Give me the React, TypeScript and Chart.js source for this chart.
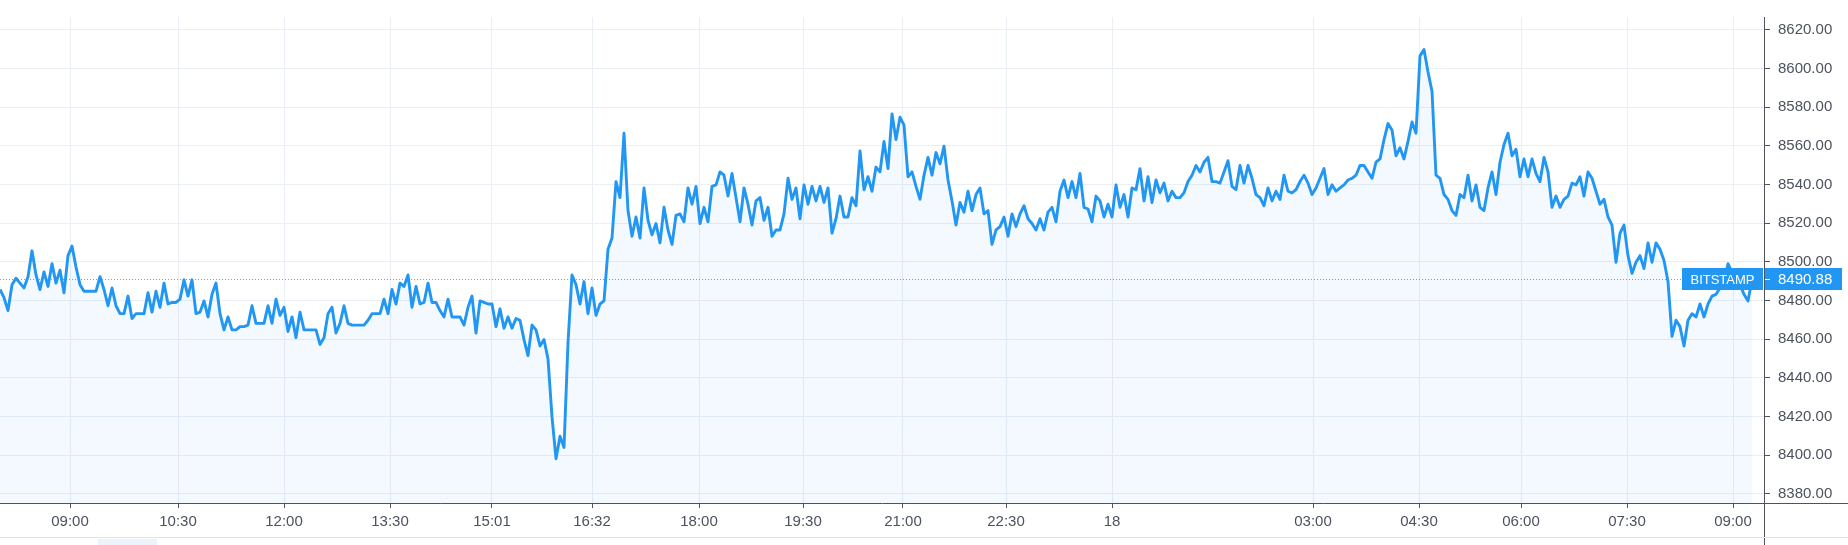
import React, { useEffect, useRef } from 'react';
import { Chart, registerables } from 'chart.js';

Chart.register(...registerables);

// Price samples (BTC/USD, Bitstamp), evenly spaced in time from ~08:00 to ~09:00 next day
const prices: number[] = [
  // 08:00 - 12:15
  8485.7, 8481.5, 8474.8, 8488.2, 8491.5, 8489, 8486.5, 8492.3, 8505.7, 8493.2,
  8485.7, 8494.8, 8487.3, 8499, 8489, 8495.7, 8484, 8503.2, 8508.2, 8497.3,
  8488.2, 8484.8, 8484.8, 8484.8, 8484.8, 8492.3, 8485.7, 8477.3, 8486.5, 8477.3,
  8473.2, 8473.2, 8482.3, 8470.7, 8473.2, 8473.2, 8473.2, 8484, 8474, 8484.8,
  8476.5, 8489, 8478.2, 8479, 8479, 8480.7, 8490.7, 8482.3, 8490.7, 8473.2,
  8474, 8479.8, 8471.5, 8483.2, 8489, 8473.2, 8464.8, 8471.5, 8464.8, 8464.8,
  8466.5, 8466.5, 8467.3, 8477.3, 8468.2, 8468.2, 8468.2, 8477.3, 8468.2, 8480.7,
  8472.3, 8476.5, 8464, 8471.5, 8460.8,
  // 12:15 - 16:30
  8474, 8464.8, 8464.8, 8464.8, 8464.8, 8457.3, 8460.7, 8473.2, 8476.5, 8463.2,
  8468.2, 8477.3, 8468.2, 8467.3, 8467.3, 8467.3, 8467.3, 8469.8, 8473.2, 8473.2,
  8473.2, 8480.7, 8473.2, 8485.7, 8478.2, 8489, 8487.3, 8493.2, 8476.5, 8487.3,
  8478.2, 8479, 8489, 8479, 8479, 8474.8, 8471.5, 8480.7, 8471.5, 8471.5,
  8471.5, 8467.3, 8476.5, 8482.3, 8463.2, 8479.8, 8479, 8478.2, 8478.2, 8466.5,
  8475.7, 8465.7, 8471.5, 8465.7, 8470.7, 8469.8, 8459.8, 8451.5, 8467.3, 8464.8,
  8456.5, 8459.8, 8449.8, 8419.8, 8398.2, 8409.8, 8404, 8458.2, 8493.2, 8488.2,
  8478.2, 8489.8, 8473.2, 8486.5,
  // 16:30 - 20:45
  8472.3, 8478.2, 8479.8, 8506.5, 8512.3, 8541.5, 8533.2, 8566.5, 8526.5, 8513.2,
  8523.2, 8512.3, 8538.2, 8521.5, 8514, 8519.8, 8509.8, 8528.2, 8516.5, 8509,
  8524, 8524.8, 8520.7, 8538.2, 8529.8, 8539, 8519.8, 8528.2, 8520.7, 8539,
  8539.8, 8546.5, 8544.8, 8534, 8545.7, 8533.2, 8520.7, 8538.2, 8529.8, 8519,
  8531.5, 8533.2, 8521.5, 8528.2, 8513.2, 8516.5, 8516.5, 8524.8, 8543.2, 8532.3,
  8538.2, 8522.3, 8539.8, 8529.8, 8539, 8531.5, 8539, 8530.7, 8538.2, 8514.8,
  8522.3, 8534, 8523.2, 8523.2, 8533.2, 8529, 8557.3, 8537.3, 8544, 8536.5,
  8549, 8546.5, 8562.3, 8548.2,
  // 20:45 - 01:00
  8576.5, 8563.2, 8574.8, 8570.7, 8544, 8546.5, 8539, 8532.3, 8544.8, 8554,
  8544.8, 8556.5, 8550.7, 8559.8, 8542.3, 8531.5, 8519, 8530.7, 8525.7, 8536.5,
  8526.5, 8534.8, 8538.2, 8524.8, 8526.5, 8509, 8516.5, 8518.2, 8523.2, 8513.2,
  8524.8, 8518.2, 8524.8, 8529, 8522.3, 8519.8, 8516.5, 8522.3, 8516.5, 8525.7,
  8528.2, 8520.7, 8536.5, 8542.3, 8533.2, 8541.5, 8533.2, 8545.7, 8528.2, 8527.3,
  8520.7, 8534, 8531.5, 8523.2, 8529.8, 8523.2, 8539.8, 8528.2, 8534.8, 8523.2,
  8538.2, 8537.3, 8548.2, 8531.5, 8544, 8530.7, 8542.3, 8535.7, 8540.7, 8531.5,
  8536.5, 8533.2, 8533.2, 8535.7,
  // 01:00 - 05:15
  8541.5, 8544.8, 8549.8, 8546.5, 8551.5, 8554, 8541.5, 8541.5, 8540.7, 8546.5,
  8552.3, 8539, 8537.3, 8549.8, 8540.7, 8549.8, 8543.2, 8534.8, 8533.2, 8529,
  8538.2, 8531.5, 8536.5, 8532.3, 8544.8, 8536.5, 8535.7, 8537.3, 8541.5, 8544.8,
  8540.7, 8534.8, 8538.2, 8543.2, 8548.2, 8534.8, 8539.8, 8536.5, 8538.2, 8539.8,
  8542.3, 8543.2, 8544.8, 8549.8, 8549.8, 8546.5, 8543.2, 8551.5, 8553.2, 8563.2,
  8571.5, 8568.2, 8554.8, 8559, 8553.2, 8562.3, 8572.3, 8566.5, 8606.5, 8609.8,
  8598.2, 8588.2, 8544.8, 8543.2, 8534.8, 8532.3, 8526.5, 8524, 8534.8, 8533.2,
  8544.8, 8531.5, 8539.8,
  // 05:15 - 09:15
  8528.2, 8526.5, 8538.2, 8546.5, 8534.8, 8551.5, 8560.7, 8566.5, 8554.8, 8558.2,
  8544, 8553.2, 8544, 8553.2, 8545.7, 8541.5, 8554, 8546.5, 8528.2, 8534,
  8528.2, 8532.3, 8534, 8540.7, 8539.8, 8544, 8534, 8546.5, 8543.2, 8536.5,
  8529.8, 8532.3, 8523.2, 8519, 8499.8, 8514.8, 8519, 8503.2, 8494, 8499.8,
  8503.2, 8496.5, 8509.8, 8499.8, 8509.8, 8506.5, 8500.7, 8489.8, 8461.5, 8469.8,
  8466.5, 8456.5, 8469.8, 8473.2, 8471.5, 8478.2, 8471.5, 8478.2, 8482.3, 8483.2,
  8486.5, 8489.8, 8499, 8494.8, 8489, 8488.2, 8483.2, 8479.8, 8490.88,
];

// Time axis: sample index of each labelled time, and its label
const timeTickIndex: number[] = [17.5, 44.5, 71, 97.5, 123, 148, 174.75, 200.75, 225.75, 251.5, 278, 328.25, 354.75, 380.25, 406.75, 433.25];
const timeTickLabels: string[] = ['09:00', '10:30', '12:00', '13:30', '15:01', '16:32', '18:00', '19:30', '21:00', '22:30', '18', '03:00', '04:30', '06:00', '07:30', '09:00'];

// Price axis
const priceTicks: number[] = [8380, 8400, 8420, 8440, 8460, 8480, 8500, 8520, 8540, 8560, 8580, 8600, 8620];
const priceMin = 8375.3;
const priceMax = 8626.6;
const indexMax = 441;

const lastPrice = 8490.88;
const sourceLabel = 'BITSTAMP';

const BLUE = '#2196f3';
const AXIS = '#50535e';
const TEXT = '#4c525e';
const GRID = '#eaeff6';
const FONT = '"Liberation Sans", Arial, sans-serif';

export default function App() {
  const ref = useRef<HTMLCanvasElement | null>(null);

  useEffect(() => {
    document.body.style.margin = '0';
    const canvas = ref.current;
    if (!canvas) return;

    const priceLinePlugin = {
      id: 'priceLine',
      beforeDatasetsDraw(chart: any) {
        const { ctx, chartArea, scales } = chart;
        const y = Math.round(scales.y.getPixelForValue(lastPrice)) + 0.5;
        ctx.save();
        ctx.strokeStyle = BLUE;
        ctx.globalAlpha = 0.8;
        ctx.lineWidth = 1;
        ctx.setLineDash([1, 2]);
        ctx.beginPath();
        ctx.moveTo(chartArea.left, y);
        ctx.lineTo(chartArea.right, y);
        ctx.stroke();
        ctx.restore();
      },
      afterDraw(chart: any) {
        const { ctx, chartArea, scales, width, height } = chart;
        const right = chartArea.right;
        const bottom = chartArea.bottom;
        ctx.save();
        // axis line extensions
        ctx.strokeStyle = AXIS;
        ctx.lineWidth = 1;
        ctx.beginPath();
        ctx.moveTo(right, bottom + 0.5);
        ctx.lineTo(width, bottom + 0.5);
        ctx.moveTo(right + 0.5, bottom);
        ctx.lineTo(right + 0.5, height);
        ctx.stroke();
        // bottom panel border
        ctx.strokeStyle = '#e0e3eb';
        ctx.beginPath();
        ctx.moveTo(0, bottom + 34.5);
        ctx.lineTo(width, bottom + 34.5);
        ctx.stroke();
        ctx.fillStyle = '#eef3fb';
        ctx.fillRect(98, bottom + 36, 59, height - bottom - 36);

        // last price labels
        const yc = scales.y.getPixelForValue(lastPrice);
        const h = 22;
        const top = Math.round(yc - h / 2);
        ctx.font = `13px ${FONT}`;
        const w1 = Math.ceil(ctx.measureText(sourceLabel).width) + 16;
        ctx.fillStyle = BLUE;
        ctx.fillRect(right - w1 - 1, top, w1, h);
        ctx.fillRect(right + 1, top, 77, h);
        ctx.fillStyle = '#ffffff';
        ctx.textBaseline = 'middle';
        ctx.textAlign = 'center';
        ctx.fillText(sourceLabel, right - 1 - w1 / 2, top + h / 2 + 1);
        ctx.textAlign = 'left';
        ctx.font = `15px ${FONT}`;
        ctx.fillText(lastPrice.toFixed(2), right + 14, top + h / 2 + 1);
        ctx.strokeStyle = '#ffffff';
        ctx.beginPath();
        ctx.moveTo(right + 1, Math.round(yc) + 0.5);
        ctx.lineTo(right + 6, Math.round(yc) + 0.5);
        ctx.stroke();
        ctx.restore();
      },
    };

    const chart = new Chart(canvas, {
      type: 'line',
      data: {
        datasets: [
          {
            data: prices.map((p, i) => ({ x: i, y: p })),
            borderColor: BLUE,
            borderWidth: 2.9,
            backgroundColor: 'rgba(33,150,243,0.055)',
            fill: 'start',
            pointRadius: 0,
            tension: 0,
            borderJoinStyle: 'round',
          },
        ],
      },
      options: {
        animation: false,
        responsive: true,
        maintainAspectRatio: false,
        layout: { padding: 0 },
        plugins: { legend: { display: false }, tooltip: { enabled: false } },
        scales: {
          x: {
            type: 'linear',
            position: 'bottom',
            min: 0,
            max: indexMax,
            afterBuildTicks: (s: any) => {
              s.ticks = timeTickIndex.map((v) => ({ value: v }));
            },
            afterFit: (s: any) => {
              s.height = 42;
            },
            grid: { color: GRID, lineWidth: 1, tickLength: 5, tickColor: AXIS, drawTicks: true },
            border: { display: true, color: AXIS, width: 1 },
            ticks: {
              autoSkip: false,
              maxRotation: 0,
              minRotation: 0,
              padding: 5,
              color: TEXT,
              font: { family: FONT, size: 15 },
              callback: (_v: any, i: number) => timeTickLabels[i],
            },
          },
          y: {
            type: 'linear',
            position: 'right',
            min: priceMin,
            max: priceMax,
            afterBuildTicks: (s: any) => {
              s.ticks = priceTicks.map((v) => ({ value: v }));
            },
            afterFit: (s: any) => {
              s.width = 84;
            },
            grid: { color: GRID, lineWidth: 1, tickLength: 6, tickColor: AXIS, drawTicks: true },
            border: { display: true, color: AXIS, width: 1 },
            ticks: {
              padding: 8,
              crossAlign: 'near',
              color: TEXT,
              font: { family: FONT, size: 15 },
              callback: (v: any) => Number(v).toFixed(2),
            },
          },
        },
      },
      plugins: [priceLinePlugin],
    } as any);

    return () => chart.destroy();
  }, []);

  return (
    <div style={{ position: 'fixed', left: 0, top: 0, width: 1848, height: 545, background: '#ffffff' }}>
      <canvas ref={ref} />
    </div>
  );
}
